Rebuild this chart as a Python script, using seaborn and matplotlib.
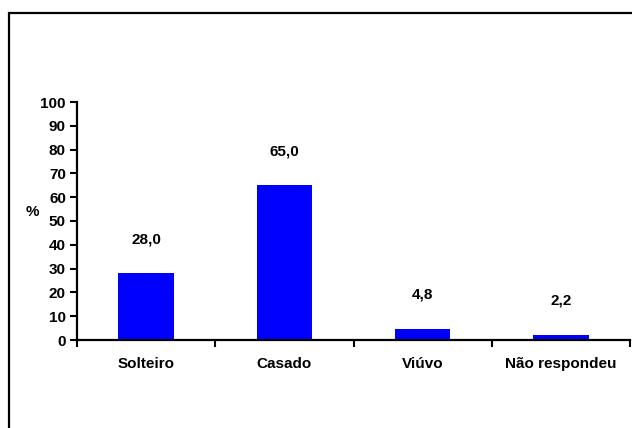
import matplotlib
matplotlib.use("Agg")
import matplotlib.pyplot as plt
import seaborn as sns
import pandas as pd
from matplotlib.patches import Rectangle
from matplotlib.ticker import FixedLocator

categories = ["Solteiro", "Casado", "Viúvo", "Não respondeu"]
values = [28.0, 65.0, 4.8, 2.2]
value_labels = ["28,0", "65,0", "4,8", "2,2"]
yticks = [0, 10, 20, 30, 40, 50, 60, 70, 80, 90, 100]

sns.set_style("white")
plt.rcParams['font.family'] = ['Liberation Sans', 'DejaVu Sans']
plt.rcParams['font.weight'] = 'bold'
plt.rcParams['text.color'] = 'black'
plt.rcParams['xtick.color'] = 'black'
plt.rcParams['ytick.color'] = 'black'
plt.rcParams['xtick.labelcolor'] = 'black'
plt.rcParams['ytick.labelcolor'] = 'black'

FS = 11

df = pd.DataFrame({"cat": categories, "val": values})

fig = plt.figure(figsize=(6.32, 4.28), dpi=100)
ax = fig.add_axes([77/632, 1-340/428, (630-77)/632, (340-102)/428])

sns.barplot(data=df, x="cat", y="val", color="#0000FF", saturation=1,
            width=0.4, ax=ax, edgecolor="none")

for i, (v, lab) in enumerate(zip(values, value_labels)):
    ax.annotate(lab, xy=(i, v), xytext=(0, 34), textcoords="offset pixels",
                ha="center", va="center", fontsize=FS, fontweight="bold", color="black")

ax.set_xlim(-0.5, 3.5)
ax.set_ylim(0, 100)
ax.set_yticks(yticks)
ax.set_yticklabels([str(t) for t in yticks], fontsize=FS, fontweight="bold")
ax.set_xticks(range(len(categories)))
ax.set_xticklabels(categories, fontsize=FS, fontweight="bold")
ax.tick_params(axis="x", which="major", length=0, pad=12)
ax.xaxis.set_minor_locator(FixedLocator([-0.5, 0.5, 1.5, 2.5, 3.5]))
ax.tick_params(axis="x", which="minor", length=5, width=1.5, direction="out", bottom=True)
ax.tick_params(axis="y", length=5, width=1.5, direction="out", left=True, pad=3)
ax.set_xlabel("")
ax.set_ylabel("")

for s in ["top", "right"]:
    ax.spines[s].set_visible(False)
for s in ["left", "bottom"]:
    ax.spines[s].set_color("black")
    ax.spines[s].set_linewidth(1.6)

fig.text(32/632, 1-212/428, "%", ha="center", va="center", fontsize=FS, fontweight="bold", color="black")

frame = Rectangle((9/632, -0.2), 2.0, 0.2 + (1-13/428), transform=fig.transFigure,
                  fill=False, edgecolor="black", linewidth=1.6, clip_on=False)
fig.patches.append(frame)

fig.savefig("out.png", dpi=100)
